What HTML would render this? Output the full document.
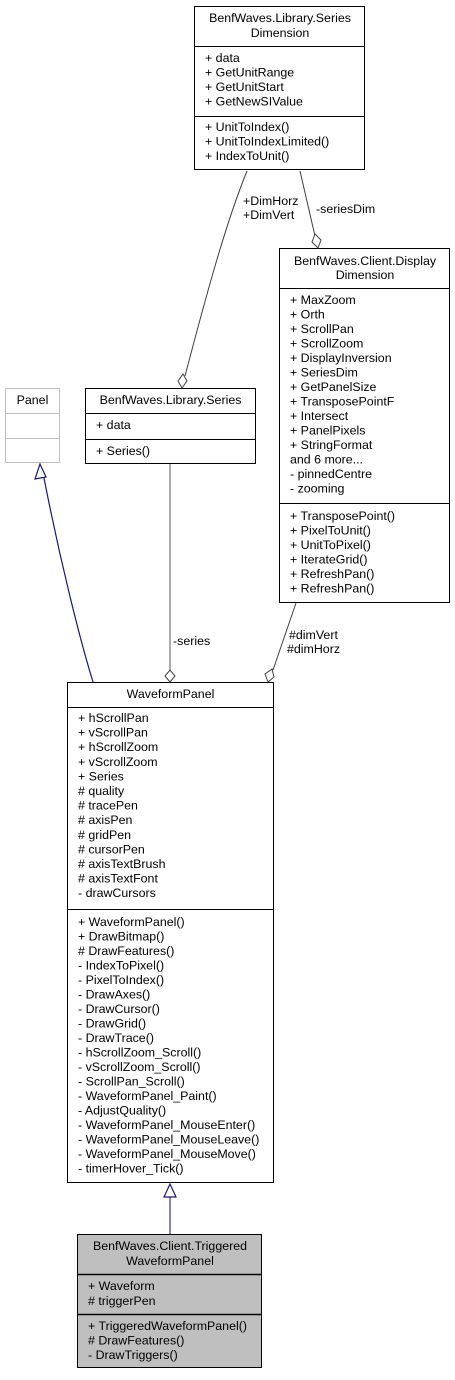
<!DOCTYPE html>
<html><head><meta charset="utf-8"><style>
html,body{margin:0;padding:0;background:#fff;}
svg text{font-family:"Liberation Sans",Arial,sans-serif;font-size:12.4px;fill:#000;}
</style></head><body>
<svg width="455" height="1375" xmlns="http://www.w3.org/2000/svg">
<!-- SeriesDimension -->
<rect x="194.5" y="6.5" width="170" height="163" fill="#fff" stroke="#000"/>
<line x1="194" y1="46.5" x2="365" y2="46.5" stroke="#000"/>
<line x1="194" y1="116.5" x2="365" y2="116.5" stroke="#000"/>
<text x="280" y="22" text-anchor="middle">BenfWaves.Library.Series</text>
<text x="280" y="37" text-anchor="middle">Dimension</text>
<text x="205" y="62">+ data</text>
<text x="205" y="76.5">+ GetUnitRange</text>
<text x="205" y="91">+ GetUnitStart</text>
<text x="205" y="105.5">+ GetNewSIValue</text>
<text x="205" y="131">+ UnitToIndex()</text>
<text x="205" y="145.5">+ UnitToIndexLimited()</text>
<text x="205" y="160">+ IndexToUnit()</text>

<!-- DisplayDimension -->
<rect x="279.5" y="248.5" width="170" height="354" fill="#fff" stroke="#000"/>
<line x1="279" y1="288.5" x2="450" y2="288.5" stroke="#000"/>
<line x1="279" y1="503.5" x2="450" y2="503.5" stroke="#000"/>
<text x="365" y="265" text-anchor="middle">BenfWaves.Client.Display</text>
<text x="365" y="279" text-anchor="middle">Dimension</text>
<text x="290" y="304">+ MaxZoom</text>
<text x="290" y="318.5">+ Orth</text>
<text x="290" y="333">+ ScrollPan</text>
<text x="290" y="347.5">+ ScrollZoom</text>
<text x="290" y="362">+ DisplayInversion</text>
<text x="290" y="376.5">+ SeriesDim</text>
<text x="290" y="391">+ GetPanelSize</text>
<text x="290" y="405.5">+ TransposePointF</text>
<text x="290" y="420">+ Intersect</text>
<text x="290" y="434.5">+ PanelPixels</text>
<text x="290" y="449">+ StringFormat</text>
<text x="290" y="463.5">and 6 more...</text>
<text x="290" y="478">- pinnedCentre</text>
<text x="290" y="492.5">- zooming</text>
<text x="290" y="520">+ TransposePoint()</text>
<text x="290" y="534.5">+ PixelToUnit()</text>
<text x="290" y="549">+ UnitToPixel()</text>
<text x="290" y="563.5">+ IterateGrid()</text>
<text x="290" y="578">+ RefreshPan()</text>
<text x="290" y="592.5">+ RefreshPan()</text>

<!-- Panel -->
<rect x="5.5" y="388.5" width="54" height="74" fill="#fff" stroke="#bfbfbf"/>
<line x1="5" y1="413.5" x2="60" y2="413.5" stroke="#bfbfbf"/>
<line x1="5" y1="438.5" x2="60" y2="438.5" stroke="#bfbfbf"/>
<text x="32.5" y="404" text-anchor="middle">Panel</text>

<!-- Series -->
<rect x="85.5" y="388.5" width="170" height="75" fill="#fff" stroke="#000"/>
<line x1="85" y1="413.5" x2="256" y2="413.5" stroke="#000"/>
<line x1="85" y1="439.5" x2="256" y2="439.5" stroke="#000"/>
<text x="170.5" y="404" text-anchor="middle">BenfWaves.Library.Series</text>
<text x="96" y="429">+ data</text>
<text x="96" y="455">+ Series()</text>

<!-- WaveformPanel -->
<rect x="67.5" y="682.5" width="206" height="500" fill="#fff" stroke="#000"/>
<line x1="67" y1="707.5" x2="274" y2="707.5" stroke="#000"/>
<line x1="67" y1="909.5" x2="274" y2="909.5" stroke="#000"/>
<text x="170.5" y="698" text-anchor="middle">WaveformPanel</text>
<g>
<text x="78" y="722">+ hScrollPan</text>
<text x="78" y="736.6">+ vScrollPan</text>
<text x="78" y="751.2">+ hScrollZoom</text>
<text x="78" y="765.8">+ vScrollZoom</text>
<text x="78" y="780.4">+ Series</text>
<text x="78" y="795">#  quality</text>
<text x="78" y="809.6">#  tracePen</text>
<text x="78" y="824.2">#  axisPen</text>
<text x="78" y="838.8">#  gridPen</text>
<text x="78" y="853.4">#  cursorPen</text>
<text x="78" y="868">#  axisTextBrush</text>
<text x="78" y="882.6">#  axisTextFont</text>
<text x="78" y="897.2">- drawCursors</text>
</g>
<g>
<text x="78" y="926">+ WaveformPanel()</text>
<text x="78" y="940.5">+ DrawBitmap()</text>
<text x="78" y="955">#  DrawFeatures()</text>
<text x="78" y="969.5">- IndexToPixel()</text>
<text x="78" y="984">- PixelToIndex()</text>
<text x="78" y="998.5">- DrawAxes()</text>
<text x="78" y="1013">- DrawCursor()</text>
<text x="78" y="1027.5">- DrawGrid()</text>
<text x="78" y="1042">- DrawTrace()</text>
<text x="78" y="1056.5">- hScrollZoom_Scroll()</text>
<text x="78" y="1071">- vScrollZoom_Scroll()</text>
<text x="78" y="1085.5">- ScrollPan_Scroll()</text>
<text x="78" y="1100">- WaveformPanel_Paint()</text>
<text x="78" y="1114.5">- AdjustQuality()</text>
<text x="78" y="1129">- WaveformPanel_MouseEnter()</text>
<text x="78" y="1143.5">- WaveformPanel_MouseLeave()</text>
<text x="78" y="1158">- WaveformPanel_MouseMove()</text>
<text x="78" y="1172.5">- timerHover_Tick()</text>
</g>

<!-- Triggered -->
<rect x="77.5" y="1234.5" width="184" height="133" fill="#bfbfbf" stroke="#000"/>
<line x1="77" y1="1274.5" x2="262" y2="1274.5" stroke="#000" stroke-width="1.5"/>
<line x1="77" y1="1314.5" x2="262" y2="1314.5" stroke="#000" stroke-width="1.5"/>
<text x="170" y="1250" text-anchor="middle">BenfWaves.Client.Triggered</text>
<text x="170" y="1265" text-anchor="middle">WaveformPanel</text>
<text x="88" y="1290">+ Waveform</text>
<text x="88" y="1305">#  triggerPen</text>
<text x="88" y="1330">+ TriggeredWaveformPanel()</text>
<text x="88" y="1344.5">#  DrawFeatures()</text>
<text x="88" y="1359">- DrawTriggers()</text>

<!-- connectors -->
<path d="M247,171 C225,225 205,300 185,376" fill="none" stroke="#404040"/>
<polygon points="182,388 178,381 183,374 187,381" fill="#fff" stroke="#404040"/>
<text x="243" y="205">+DimHorz</text>
<text x="243" y="219">+DimVert</text>

<path d="M300,171 L315,236" fill="none" stroke="#404040"/>
<polygon points="318,248 312,242 315,234 321,240" fill="#fff" stroke="#404040"/>
<text x="316" y="213">-seriesDim</text>

<line x1="170" y1="464" x2="170" y2="670" stroke="#808080" stroke-width="1.3"/>
<polygon points="170,682 165,676 170,670 175,676" fill="#fff" stroke="#404040"/>
<text x="173" y="645">-series</text>

<path d="M296,603 L273,670" fill="none" stroke="#404040"/>
<polygon points="268,682 265,674 272,669 274,677" fill="#fff" stroke="#404040"/>
<text x="289" y="639">#dimVert</text>
<text x="287" y="653">#dimHorz</text>

<path d="M93,682 C80,640 60,560 44,478" fill="none" stroke="#191970" stroke-width="1.2"/>
<polygon points="40,464 35,479 46,477" fill="#fff" stroke="#191970" stroke-width="1.2"/>

<line x1="170" y1="1197" x2="170" y2="1234" stroke="#191970" stroke-width="1.3" opacity="0.8"/>
<polygon points="170,1184 164,1197 176,1197" fill="#fff" stroke="#191970" stroke-width="1.2"/>
</svg>
</body></html>
